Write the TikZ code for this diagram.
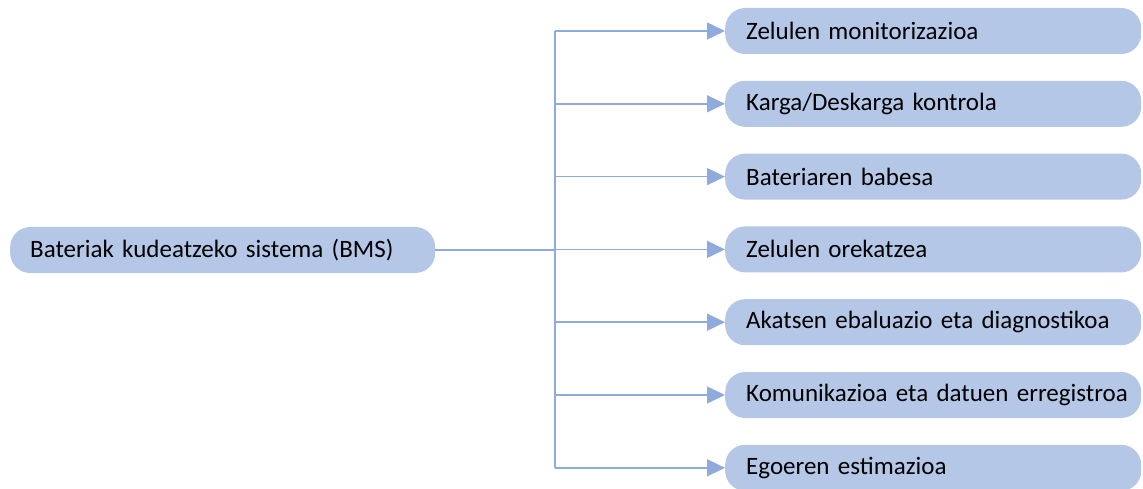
\documentclass[tikz,border=0pt]{standalone}
\usepackage{fontspec}
\setmainfont{Carlito}
\usetikzlibrary{positioning,arrows.meta}

\definecolor{boxblue}{HTML}{B4C7E7}
\definecolor{lineblue}{HTML}{8FAADC}

\tikzset{
	task/.style={fill=boxblue, rounded corners=20pt, minimum height=46pt,
		inner xsep=21pt, text width=374pt, align=left, anchor=west,
		font=\fontsize{25}{29}\selectfont},
	link/.style={draw=lineblue, line width=1.5pt},
	feed/.style={link, -{Triangle[length=18pt,width=17pt]}}
}

\begin{document}
\begin{tikzpicture}[x=1pt,y=-1pt]
	\useasboundingbox (0,0) rectangle (1143,489);

	\node[task, inner xsep=20pt, text width=385pt] (bms) at (10,250) {Bateriak kudeatzeko sistema (BMS)};
	\coordinate (trunk) at (555,250);

	\foreach \name/\txt [count=\i from 0] in {
			zel/Zelulen monitorizazioa,
			karga/{Karga/Deskarga kontrola},
			babes/Bateriaren babesa,
			oreka/Zelulen orekatzea,
			akats/Akatsen ebaluazio eta diagnostikoa,
			komun/Komunikazioa eta datuen erregistroa,
			egoera/Egoeren estimazioa}{
		\node[task] (\name) at (725,31+72.8*\i) {\mbox{\txt}};
		\draw[feed] (trunk |- \name.west) -- (\name.west);
	}

	\draw[link] (bms.east) -- (trunk);
	\draw[link] (trunk |- zel.west) -- (trunk |- egoera.west);
\end{tikzpicture}
\end{document}
